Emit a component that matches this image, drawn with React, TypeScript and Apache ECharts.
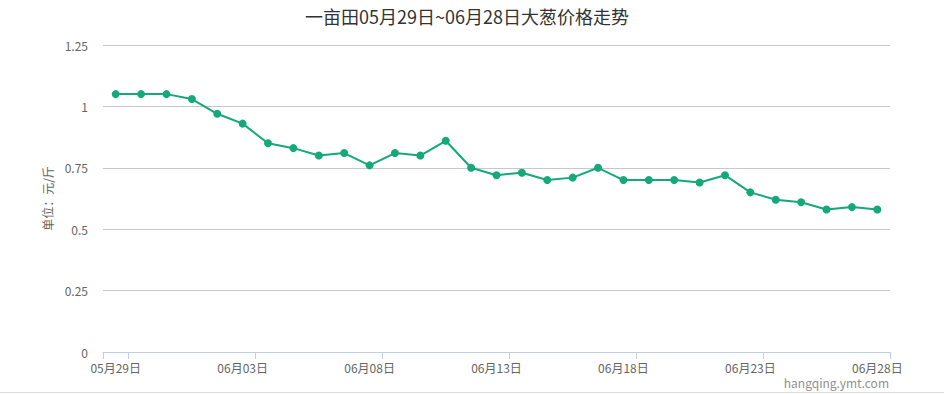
import React, { useEffect, useRef } from "react";
import * as echarts from "echarts";

const titleText = "一亩田05月29日~06月28日大葱价格走势";
const yAxisName = "单位：元/斤";
const creditText = "hangqing.ymt.com";

const dates = [
  "05月29日", "05月30日", "05月31日", "06月01日", "06月02日", "06月03日", "06月04日",
  "06月05日", "06月06日", "06月07日", "06月08日", "06月09日", "06月10日", "06月11日",
  "06月12日", "06月13日", "06月14日", "06月15日", "06月16日", "06月17日", "06月18日",
  "06月19日", "06月20日", "06月21日", "06月22日", "06月23日", "06月24日", "06月25日",
  "06月26日", "06月27日", "06月28日",
];

const prices = [
  1.05, 1.05, 1.05, 1.03, 0.97, 0.93, 0.85, 0.83, 0.8, 0.81, 0.76, 0.81, 0.8, 0.86,
  0.75, 0.72, 0.73, 0.7, 0.71, 0.75, 0.7, 0.7, 0.7, 0.69, 0.72, 0.65, 0.62, 0.61,
  0.58, 0.59, 0.58,
];

const FONT = "'Noto Sans CJK SC', 'Noto Sans', sans-serif";

export default function App() {
  const ref = useRef<HTMLDivElement>(null);
  useEffect(() => {
    if (!ref.current) return;
    const chart = echarts.init(ref.current, undefined, { renderer: "svg" });
    chart.setOption({
      animation: false,
      backgroundColor: "#ffffff",
      textStyle: { fontFamily: FONT },
      title: {
        text: titleText,
        left: 462,
        top: 2,
        textAlign: "center",
        textStyle: { fontSize: 18, fontWeight: "normal", color: "#333333", fontFamily: FONT },
      },
      grid: { left: 103, right: 54, top: 45, bottom: 42, containLabel: false },
      xAxis: {
        type: "category",
        data: dates,
        boundaryGap: true,
        axisLine: { show: true, lineStyle: { color: "#C0D0E0", width: 1 } },
        axisTick: {
          show: true,
          length: 7,
          lineStyle: { color: "#C0D0E0" },
          interval: (index: number) => index === 0 || (index - 1) % 5 === 0,
        },
        axisLabel: { interval: 4, color: "#666666", fontSize: 12, margin: 9, fontFamily: FONT },
        splitLine: { show: false },
      },
      yAxis: {
        type: "value",
        min: 0,
        max: 1.25,
        interval: 0.25,
        name: yAxisName,
        nameLocation: "middle",
        nameRotate: 90,
        nameGap: 38,
        nameTextStyle: { color: "#666666", fontSize: 12, fontFamily: FONT },
        axisLine: { show: false },
        axisTick: { show: false },
        axisLabel: { color: "#666666", fontSize: 12, margin: 15, fontFamily: FONT },
        splitLine: { show: true, lineStyle: { color: "#C8C8C8", width: 1 } },
      },
      series: [
        {
          type: "line",
          data: prices,
          symbol: "circle",
          symbolSize: 8,
          itemStyle: { color: "#14A87A" },
          lineStyle: { color: "#14A87A", width: 2 },
        },
      ],
      graphic: [
        {
          type: "text",
          right: 55,
          top: 376,
          style: { text: creditText, fill: "#909090", fontSize: 12, fontFamily: FONT },
        },
        {
          type: "line",
          shape: { x1: 0, y1: 392.5, x2: 944, y2: 392.5 },
          style: { stroke: "#DDDDDD", lineWidth: 1 },
        },
      ],
    });
    return () => chart.dispose();
  }, []);
  return (
    <div
      ref={ref}
      style={{ position: "fixed", left: 0, top: 0, width: 944, height: 394 }}
    />
  );
}
